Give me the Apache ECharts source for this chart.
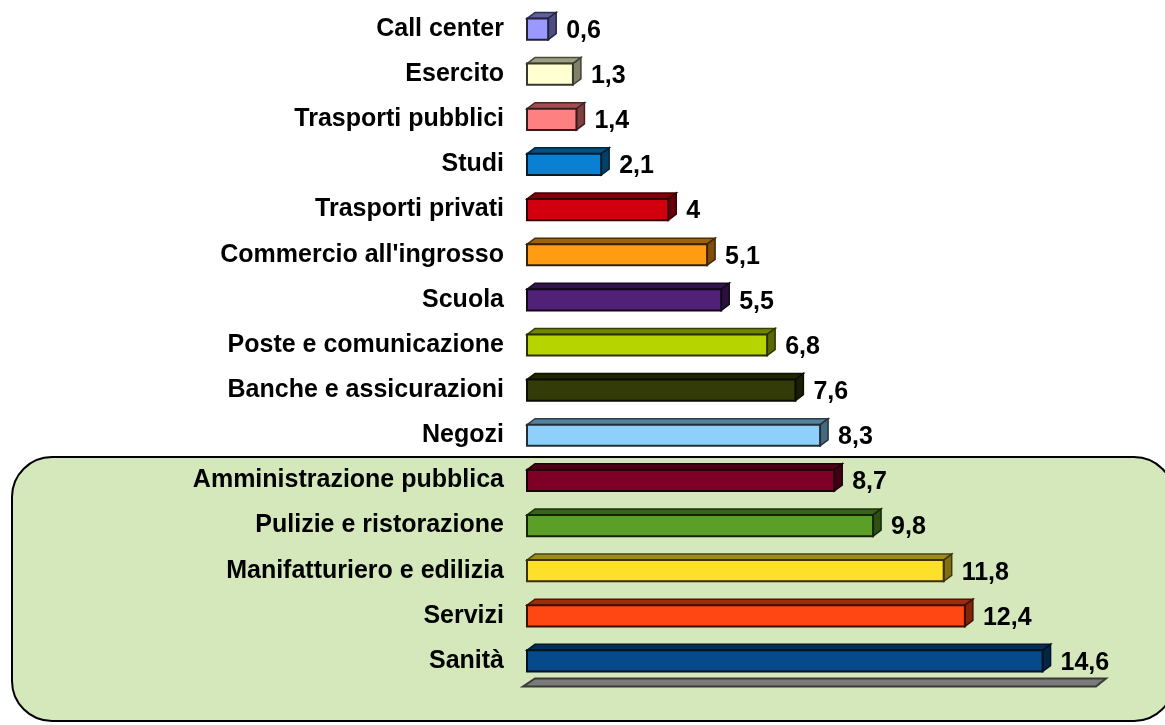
<!DOCTYPE html>
<html>
<head>
<meta charset="utf-8">
<script src="https://cdn.jsdelivr.net/npm/echarts@6/dist/echarts.min.js"></script>
<style>
  html, body { margin: 0; padding: 0; background: #fff; }
  #chart { width: 1165px; height: 725px; }
</style>
</head>
<body>
<div id="chart"></div>
<script>
// categorie dall'alto verso il basso
const categories = [
  'Call center', 'Esercito', 'Trasporti pubblici', 'Studi', 'Trasporti privati',
  "Commercio all'ingrosso", 'Scuola', 'Poste e comunicazione', 'Banche e assicurazioni',
  'Negozi', 'Amministrazione pubblica', 'Pulizie e ristorazione',
  'Manifatturiero e edilizia', 'Servizi', 'Sanità'
];
const values = [0.6, 1.3, 1.4, 2.1, 4, 5.1, 5.5, 6.8, 7.6, 8.3, 8.7, 9.8, 11.8, 12.4, 14.6];
const barColors = [
  '#9999ff', '#ffffd2', '#ff8080', '#0a80d2', '#d2000f',
  '#ff9c12', '#512178', '#b6d400', '#333b08', '#8ed0fb',
  '#7f0026', '#5c9f26', '#fde02a', '#ff4714', '#054b8c'
];
const axisMax = 16;

const FONT = "'Liberation Sans', Arial, sans-serif";

/* colore più scuro per le facce laterali */
function shade(hex, f) {
  const n = parseInt(hex.slice(1), 16);
  const r = Math.round(((n >> 16) & 255) * f);
  const g = Math.round(((n >> 8) & 255) * f);
  const b = Math.round((n & 255) * f);
  return 'rgb(' + r + ',' + g + ',' + b + ')';
}

const DX = 8, DY = 6;

function renderBar(params, api) {
  const v = api.value(0);
  const idx = api.value(1);
  const p0 = api.coord([0, idx]);
  const p1 = api.coord([v, idx]);
  const band = api.size([0, 1])[1];
  const h = band * 0.47;
  const yT = p0[1] - h / 2;
  const yB = p0[1] + h / 2;
  const x0 = p0[0], x1 = p1[0];
  const c = barColors[idx];
  return {
    type: 'group',
    children: [
      {
        type: 'polygon',
        shape: { points: [[x0, yT], [x1, yT], [x1 + DX, yT - DY], [x0 + DX, yT - DY]] },
        style: { fill: shade(c, 0.62), stroke: shade(c, 0.3), lineWidth: 1.5 }
      },
      {
        type: 'polygon',
        shape: { points: [[x1, yT], [x1 + DX, yT - DY], [x1 + DX, yB - DY], [x1, yB]] },
        style: { fill: shade(c, 0.5), stroke: shade(c, 0.25), lineWidth: 1.5 }
      },
      {
        type: 'rect',
        shape: { x: x0, y: yT, width: x1 - x0, height: h },
        style: { fill: c, stroke: shade(c, 0.22), lineWidth: 2 }
      },
      {
        type: 'text',
        style: {
          x: x1 + DX + 10,
          y: p0[1] + 2,
          text: String(v).replace('.', ','),
          fill: '#000',
          fontFamily: FONT,
          fontWeight: 'bold',
          fontSize: 25,
          verticalAlign: 'middle',
          align: 'left'
        }
      }
    ]
  };
}

/* base grigia sotto l'ultima barra */
function renderFloor(params, api) {
  const idx = api.value(1);
  const band = api.size([0, 1])[1];
  const pL = api.coord([0, idx]);
  const pR = api.coord([api.value(0), idx]);
  const yb = pL[1] + band / 2 + 3;
  return {
    type: 'group',
    children: [{
      type: 'polygon',
      shape: { points: [[pL[0] - 4, yb], [pR[0] + 4, yb], [pR[0] + 14, yb - 8], [pL[0] + 8, yb - 8]] },
      style: { fill: '#7a7a7a', stroke: '#3a3a3a', lineWidth: 2 }
    }]
  };
}

const chart = echarts.init(document.getElementById('chart'), null, { renderer: 'canvas' });

chart.setOption({
  animation: false,
  backgroundColor: '#fff',
  graphic: [{
    type: 'rect',
    z: -10,
    shape: { x: 12, y: 457, width: 1162, height: 264, r: 40 },
    style: { fill: '#d4e8bc', stroke: '#000', lineWidth: 2 }
  }],
  grid: { left: 527, right: 73, top: 6.5, bottom: 41.5, containLabel: false },
  xAxis: { type: 'value', min: 0, max: axisMax, show: false },
  yAxis: {
    type: 'category',
    inverse: true,
    data: categories,
    z: 3,
    axisLine: { show: false },
    axisTick: { show: false },
    splitLine: { show: false },
    axisLabel: {
      margin: 23,
      color: '#000',
      fontFamily: FONT,
      fontWeight: 'bold',
      fontSize: 25
    }
  },
  series: [
    {
      type: 'custom',
      name: 'base',
      z: 4,
      renderItem: renderFloor,
      encode: { x: 0, y: 1 },
      data: [[axisMax, categories.length - 1]]
    },
    {
      type: 'custom',
      name: 'valori',
      z: 5,
      renderItem: renderBar,
      encode: { x: 0, y: 1 },
      data: values.map((v, i) => [v, i])
    }
  ]
});
</script>
</body>
</html>
